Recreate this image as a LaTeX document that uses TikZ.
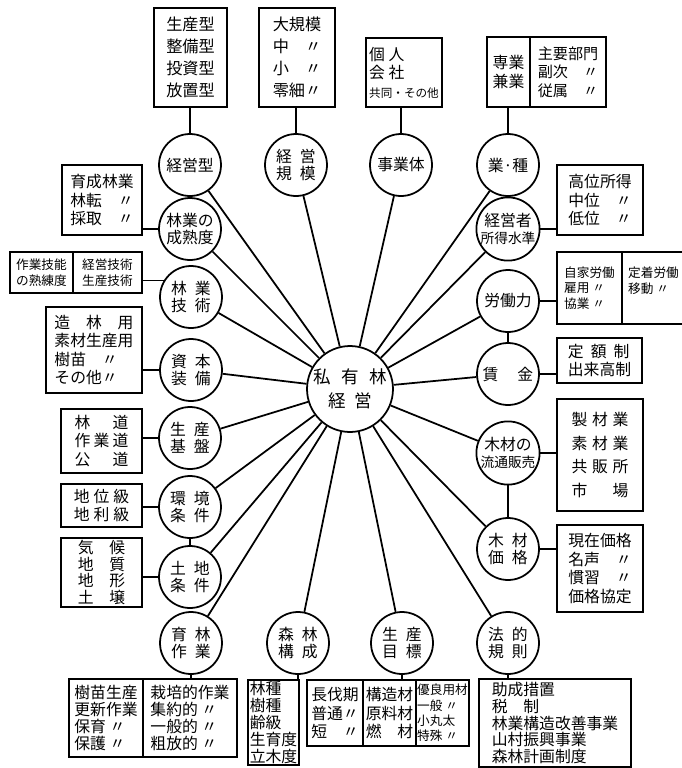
\documentclass[tikz,border=0pt]{standalone}
\usepackage{fontspec}
\setmainfont{Noto Sans CJK JP}

\begin{document}
\begin{tikzpicture}[
    x=0.02cm, y=-0.02cm,
    hub/.style={circle, draw, line width=1pt, minimum size=1.24cm, inner sep=0pt, align=center, font=\fontsize{9}{9.8}\selectfont},
    box/.style={rectangle, draw, line width=1pt, inner sep=0pt, align=left, font=\fontsize{9}{10.5}\selectfont},
    wide/.style={font=\fontsize{9.2}{12.5}\selectfont},
    tight/.style={font=\fontsize{9}{9.6}\selectfont},
    tiny/.style={font=\fontsize{7.2}{8.8}\selectfont},
    link/.style={line width=1pt}
]
    \useasboundingbox (0,0) rectangle (682,768);

    % centre
    \node[hub, minimum size=1.72cm, font=\fontsize{10}{14}\selectfont] (P) at (350,389) {私\hspace{.6em}有\hspace{.6em}林\\経\hspace{.5em}営};

    % circles, top row
    \node[hub] (typ) at (190,165) {経営型};
    \node[hub] (siz) at (296,165) {経\hspace{.5em}営\\規\hspace{.5em}模};
    \node[hub] (ent) at (401,165) {事業体};
    \node[hub] (ind) at (508,165) {業·種};

    % circles, left column
    \node[hub] (mat) at (190,229) {林業の\\成熟度};
    \node[hub] (tec) at (191,297) {林\hspace{.5em}業\\技\hspace{.5em}術};
    \node[hub] (cap) at (191,370) {資\hspace{.5em}本\\装\hspace{.5em}備};
    \node[hub] (bas) at (190,438) {生\hspace{.5em}産\\基\hspace{.5em}盤};
    \node[hub] (env) at (190,507) {環\hspace{.5em}境\\条\hspace{.5em}件};
    \node[hub] (lnd) at (190,577) {土\hspace{.5em}地\\条\hspace{.5em}件};

    % circles, bottom row
    \node[hub] (sil) at (191,643) {育\hspace{.5em}林\\作\hspace{.5em}業};
    \node[hub] (stn) at (298,643) {森\hspace{.5em}林\\構\hspace{.5em}成};
    \node[hub] (aim) at (402,643) {生\hspace{.5em}産\\目\hspace{.5em}標};
    \node[hub] (law) at (508,643) {法\hspace{.5em}的\\規\hspace{.5em}則};

    % circles, right column
    \node[hub] (inc) at (508,229) {経営者\\{\fontsize{7.8}{9}\selectfont 所得水準}};
    \node[hub] (lab) at (508,301) {労働力};
    \node[hub] (wag) at (508,374) {賃\hspace{1.2em}金};
    \node[hub] (dis) at (508,453) {木材の\\{\fontsize{7.8}{9}\selectfont 流通販売}};
    \node[hub] (pri) at (508,549) {木\hspace{.5em}材\\価\hspace{.5em}格};

    % boxes, top
    \node[box, wide, minimum width=1.46cm, minimum height=1.98cm] (typB) at (190.5,57.5) {生産型\\整備型\\投資型\\放置型};
    \node[box, wide, minimum width=1.52cm, minimum height=1.98cm] (sizB) at (297,57.5) {大規模\\中　〃\\小　〃\\零細〃};
    \node[box, minimum width=1.52cm, minimum height=1.38cm] (entB) at (404,72.5) {個 人\\会 社\\{\fontsize{6.6}{9}\selectfont 共同・その他}};
    \node[box, minimum width=0.86cm, minimum height=1.4cm] (indL) at (508.5,72) {専業\\兼業};
    \node[box, minimum width=1.52cm, minimum height=1.4cm, font=\fontsize{8.6}{10.5}\selectfont] (indR) at (568,72) {主要部門\\副次　〃\\従属　〃};

    % boxes, left
    \node[box, minimum width=1.6cm, minimum height=1.4cm] (matB) at (102,200) {育成林業\\林転　〃\\採取　〃};
    \node[box, tiny, minimum width=1.26cm, minimum height=0.82cm] (tecL) at (41.5,272.5) {作業技能\\の熟練度};
    \node[box, tiny, minimum width=1.38cm, minimum height=0.82cm] (tecR) at (107.5,272.5) {経営技術\\生産技術};
    \node[box, minimum width=1.92cm, minimum height=1.72cm] (capB) at (94,350) {造　林　用\\素材生産用\\樹苗　〃\\その他〃};
    \node[box, minimum width=1.62cm, minimum height=1.28cm] (basB) at (101.5,441) {林\hspace{1.4em}道\\作\hspace{.2em}業\hspace{.2em}道\\公\hspace{1.4em}道};
    \node[box, minimum width=1.62cm, minimum height=0.86cm] (envB) at (101.5,505.5) {地\hspace{.25em}位\hspace{.25em}級\\地\hspace{.25em}利\hspace{.25em}級};
    \node[box, tight, minimum width=1.62cm, minimum height=1.38cm] (lndB) at (101.5,572.5) {気　候\\地　質\\地　形\\土　壌};

    % boxes, bottom
    \node[box, tight, minimum width=1.48cm, minimum height=1.56cm] (silL) at (106,718) {樹苗生産\\更新作業\\保育 〃\\保護 〃};
    \node[box, tight, minimum width=1.88cm, minimum height=1.56cm] (silR) at (190,718) {栽培的作業\\集約的 〃\\一般的 〃\\粗放的 〃};
    \node[box, tight, minimum width=1.02cm, minimum height=1.7cm] (stnB) at (273.5,722.5) {林種\\樹種\\齢級\\生育度\\立木度};
    \node[box, minimum width=1.12cm, minimum height=1.32cm] (aimL) at (335,713) {長伐期\\普通〃\\短　〃};
    \node[box, minimum width=1.06cm, minimum height=1.32cm] (aimM) at (389.5,713) {構造材\\原料材\\燃　材};
    \node[box, tiny, minimum width=1.06cm, minimum height=1.32cm] (aimR) at (442.5,713) {優良用材\\一般 〃\\小丸太\\特殊 〃};
    \node[box, tight, minimum width=3.04cm, minimum height=1.76cm] (lawB) at (555,723) {助成措置\\税　制\\林業構造改善事業\\山村振興事業\\森林計画制度};

    % boxes, right
    \node[box, minimum width=1.72cm, minimum height=1.4cm] (incB) at (600,200) {高位所得\\中位　〃\\低位　〃};
    \node[box, tiny, minimum width=1.3cm, minimum height=1.44cm] (labL) at (589.5,288) {自家労働\\雇用 〃\\協業 〃};
    \node[box, tiny, minimum width=1.26cm, minimum height=1.44cm] (labR) at (653.5,288) {定着労働\\移動 〃\\~};
    \node[box, minimum width=1.7cm, minimum height=0.9cm] (wagB) at (599.5,360.5) {定\hspace{.45em}額\hspace{.45em}制\\出来高制};
    \node[box, minimum width=1.72cm, minimum height=2.24cm, font=\fontsize{9}{13.5}\selectfont] (disB) at (600,455) {製\hspace{.3em}材\hspace{.3em}業\\素\hspace{.3em}材\hspace{.3em}業\\共\hspace{.3em}販\hspace{.3em}所\\市\hspace{1.6em}場};
    \node[box, minimum width=1.72cm, minimum height=1.74cm] (priB) at (600,568.5) {現在価格\\名声　〃\\慣習　〃\\価格協定};

    % spokes
    \draw[link] (P) -- (typ);
    \draw[link] (P) -- (siz);
    \draw[link] (P) -- (ent);
    \draw[link] (P) -- (ind);
    \draw[link] (P) -- (mat);
    \draw[link] (P) -- (tec);
    \draw[link] (P) -- (cap);
    \draw[link] (P) -- (bas);
    \draw[link] (P) -- (env);
    \draw[link] (P) -- (lnd);
    \draw[link] (P) -- (sil);
    \draw[link] (P) -- (stn);
    \draw[link] (P) -- (aim);
    \draw[link] (P) -- (law);
    \draw[link] (P) -- (pri);
    \draw[link] (P) -- (dis);
    \draw[link] (P) -- (wag);
    \draw[link] (P) -- (lab);
    \draw[link] (P) -- (inc);

    % circle to circle
    \draw[link] (env) -- (lnd);
    \draw[link] (lab) -- (wag);
    \draw[link] (dis) -- (pri);

    % circle to box
    \draw[link] (typ) -- (typ |- typB.south);
    \draw[link] (siz) -- (siz |- sizB.south);
    \draw[link] (ent) -- (ent |- entB.south);
    \draw[link] (ind) -- (ind |- indL.south);
    \draw[link] (mat) -- (mat -| matB.east);
    \draw[link] (tec.149) -- (tec.149 -| tecR.east);
    \draw[link] (cap) -- (cap -| capB.east);
    \draw[link] (bas) -- (bas -| basB.east);
    \draw[link] (env) -- (env -| envB.east);
    \draw[link] (lnd) -- (lnd -| lndB.east);
    \draw[link] (sil) -- (sil |- silR.north);
    \draw[link] (stn) -- (stn |- stnB.north);
    \draw[link] (aim) -- (aim |- aimM.north);
    \draw[link] (law) -- (law |- lawB.north);
    \draw[link] (inc) -- (inc -| incB.west);
    \draw[link] (lab) -- (lab -| labL.west);
    \draw[link] (wag) -- (wag -| wagB.west);
    \draw[link] (dis) -- (dis -| disB.west);
    \draw[link] (pri) -- (pri -| priB.west);
\end{tikzpicture}
\end{document}
